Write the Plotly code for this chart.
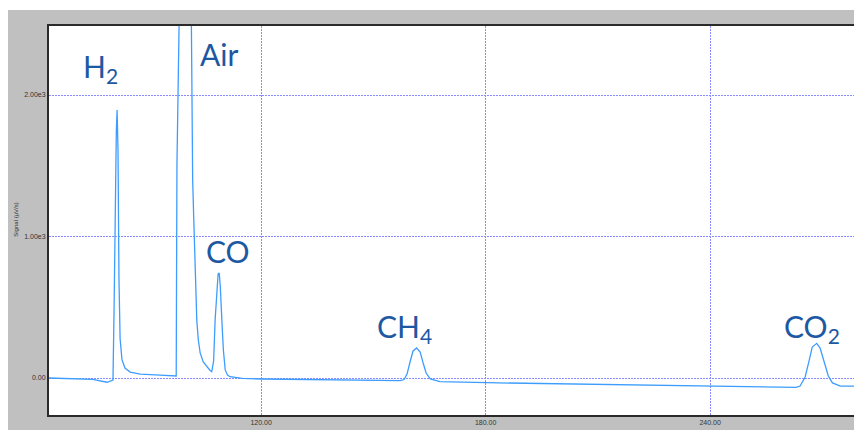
import plotly.graph_objects as go

# Retention time (s) and detector signal
time_s = [63.3, 70.0, 75.0, 78.8, 79.8, 80.4, 80.7, 81.0, 81.3, 81.5, 81.75, 82.0, 82.3, 82.8,
          83.6, 85.0, 87.7, 93.0, 96.9,
          97.3, 97.5, 97.7, 99.5, 101.2, 101.45, 101.7, 102.0, 102.4, 102.8, 103.2, 103.7,
          104.5, 105.5, 106.3, 106.8,
          107.3, 107.7, 108.1, 108.5, 108.8, 109.1, 109.5, 109.9, 110.4, 111.0, 111.7, 115.0,
          120.3, 130.4, 143.8,
          157.15, 158.2, 159.0, 159.8, 160.6, 161.55, 162.5, 163.3, 164.1, 165.2, 167.8,
          180.1, 210.6, 240.0, 263.0,
          264.05, 265.4, 266.5, 267.3, 268.5, 269.4, 270.5, 271.6, 272.7, 274.8, 280.6]
signal = [0, -3, -10, -30, -20, -15, 500, 1250, 1750, 1894, 1600, 700, 280, 130,
          70, 42, 28, 21, 14,
          14, 1500, 3000, 5000, 3000, 1731, 1400, 1117, 700, 410, 270, 177,
          115, 78, 55, 45,
          120, 410, 620, 735, 742, 640, 410, 200, 57, 20, 9, -3,
          -7, -11, -14,
          -18, -11, 28, 113, 191, 212, 184, 106, 35, -7, -25,
          -33, -45, -61, -66,
          -57, 7, 127, 219, 245, 212, 113, 14, -35, -57, -57]

x_ticks = [120, 180, 240]
x_tick_text = ["120.00", "180.00", "240.00"]
y_ticks = [0, 1000, 2000]
y_tick_text = ["0.00", "1.00e3", "2.00e3"]

peak_labels = ["H<sub>2</sub>", "Air", "CO", "CH<sub>4</sub>", "CO<sub>2</sub>"]
label_x = [71.8, 103.2, 104.8, 150.4, 259.3]
label_y = [2345, 2431, 1039, 509, 509]

fig = go.Figure()
fig.add_trace(go.Scatter(x=time_s, y=signal, mode="lines",
                         line=dict(color="#3d9dff", width=1.3), showlegend=False))

for t, xx, yy in zip(peak_labels, label_x, label_y):
    fig.add_annotation(x=xx, y=yy, text=t, showarrow=False, xanchor="left", yanchor="top",
                       font=dict(family="Lato", size=30, color="#1d58a3"))

fig.add_annotation(xref="paper", yref="paper", x=-0.046, y=0.501, text="Signal (µV/s)",
                   textangle=-90, showarrow=False,
                   font=dict(family="Liberation Sans", size=6, color="#333333"))

# thin white strip at the top edge of the window
fig.add_shape(type="rect", xref="paper", yref="paper", x0=-0.1, x1=1.1, y0=1.041, y1=1.2,
              fillcolor="white", line_width=0, layer="above")

grid = dict(showgrid=True, gridcolor="#8a8aff", griddash="2px,1px", gridwidth=1, zeroline=False)
fig.update_xaxes(range=[63.3, 280.6], tickvals=x_ticks, ticktext=x_tick_text,
                 showline=True, linecolor="#2a2a2a", linewidth=2, mirror=True, ticks="",
                 tickfont=dict(family="Liberation Sans", size=7, color="#333333"), **grid)
fig.update_yaxes(range=[-261.5, 2487.6], tickvals=y_ticks, ticktext=y_tick_text,
                 showline=True, linecolor="#2a2a2a", linewidth=2, ticks="",
                 tickfont=dict(family="Liberation Sans", size=7, color="#333333"), **grid)

fig.update_layout(width=862, height=430, margin=dict(l=41, r=8, t=18, b=23),
                  paper_bgcolor="#c0c0c0", plot_bgcolor="white")
fig.write_html("out.html")
